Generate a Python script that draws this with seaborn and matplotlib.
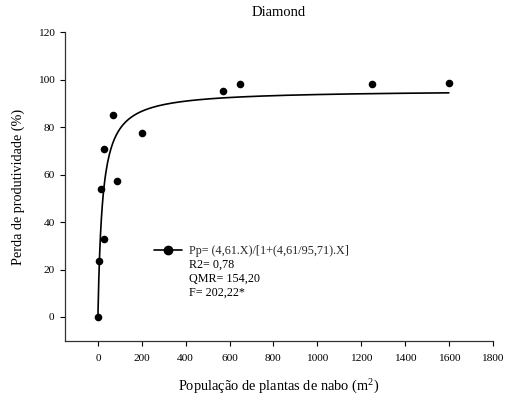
import numpy as np
import pandas as pd
import matplotlib
matplotlib.use("Agg")
import matplotlib.pyplot as plt
import seaborn as sns
from matplotlib.lines import Line2D

sns.set_theme(style="ticks")
plt.rcParams["font.family"] = ["Liberation Serif", "DejaVu Serif"]
plt.rcParams["mathtext.fontset"] = "custom"
plt.rcParams["mathtext.rm"] = "Liberation Serif"
plt.rcParams["mathtext.it"] = "Liberation Serif:italic"

# Observed yield loss vs. turnip plant density
plant_density = [0, 5, 14, 27, 29, 70, 87, 203, 570, 650, 1250, 1600]
yield_loss = [0, 23.7, 54.1, 32.7, 70.9, 85.3, 57.5, 77.7, 95.3, 98.1, 98.3, 98.8]

# Rectangular hyperbola parameters (Cousens model)
param_i = 4.61
param_a = 95.71

x_ticks = [0, 200, 400, 600, 800, 1000, 1200, 1400, 1600, 1800]
y_ticks = [0, 20, 40, 60, 80, 100, 120]

legend_lines = ["Pp= (4,61.X)/[1+(4,61/95,71).X]", "R2= 0,78", "QMR= 154,20", "F= 202,22*"]

obs = pd.DataFrame({"x": plant_density, "y": yield_loss})
x_fit = np.linspace(0, max(plant_density), 400)
fit = pd.DataFrame({"x": x_fit, "y": param_i * x_fit / (1 + (param_i / param_a) * x_fit)})

W, H = 506, 399
fig = plt.figure(figsize=(W / 100, H / 100), dpi=100)
ax = fig.add_axes([65 / W, 1 - 340.7 / H, (492.7 - 65) / W, (340.7 - 32.3) / H])

sns.lineplot(data=fit, x="x", y="y", ax=ax, color="black", linewidth=1.2, legend=False)
sns.scatterplot(data=obs, x="x", y="y", ax=ax, color="black", s=30, edgecolor="black",
                linewidth=0, zorder=3, legend=False)

ax.set_xlim(-150, 1800)
ax.set_ylim(-10, 120)
ax.set_xticks(x_ticks)
ax.set_yticks(y_ticks)
ax.tick_params(axis="both", direction="out", length=3.5, width=0.8, labelsize=8.2, color="black",
               labelcolor="black")
ax.tick_params(axis="x", pad=6)
ax.tick_params(axis="y", pad=4)
for side in ["top", "right"]:
    ax.spines[side].set_visible(False)
for side in ["left", "bottom"]:
    ax.spines[side].set_color("#333333")
    ax.spines[side].set_linewidth(0.9)

ax.set_xlabel(r"População de plantas de nabo (m$^{\mathrm{2}}$)", fontsize=10.4, labelpad=11, color="black")
ax.set_ylabel("Perda de produtividade (%)", fontsize=10.2, labelpad=9, color="black")
fig.text(279 / W, 1 - 13 / H, "Diamond", ha="center", va="center", fontsize=10.5, color="black")

handle = Line2D([], [], color="black", linewidth=1.2, marker="o", markersize=6)
leg = ax.legend([handle], [legend_lines[0]], loc="center left",
                bbox_to_anchor=(154 / W, 1 - 251 / H), bbox_transform=fig.transFigure,
                frameon=False, fontsize=8.7, handlelength=2.3, handletextpad=0.6,
                borderpad=0, borderaxespad=0)
for k, line in enumerate(legend_lines[1:], start=1):
    fig.text(189 / W, 1 - (251 + 14 * k) / H, line, fontsize=8.7,
             ha="left", va="center", color="black")

fig.savefig("out.png", dpi=100, facecolor="white")
